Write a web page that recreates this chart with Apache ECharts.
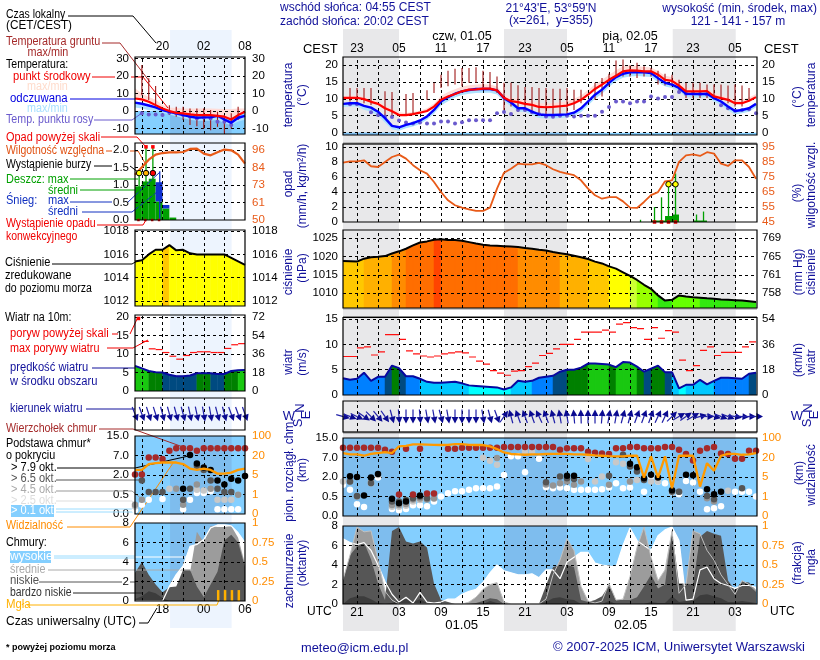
<!DOCTYPE html>
<html><head><meta charset="utf-8">
<style>html,body{margin:0;padding:0;background:#fff}#c{width:820px;height:660px}</style>
<script src="https://cdn.jsdelivr.net/npm/echarts@6/dist/echarts.min.js"></script>
</head><body><div id="c"></div>
<script>
const n = null;
// ---------- tick labels ----------
const localTicksMain = ['23','05','11','17','23','05','11','17','23','05'];
const utcTicksMain   = ['21','03','09','15','21','03','09','15','21','03'];
const localTicksLeft = ['20','02','08'];
const utcTicksLeft   = ['18','00','06'];
const cloudScaleLabels = ['0.0','0.5','2.0','7.0','15.0'];
const visScaleLabels   = ['0','1','5','20','100'];
const mmHgLabels = ['758','761','765','769'];
const leftHumLabels = ['50','61','73','84','96'];
const fogLabels = ['0','0.25','0.5','0.75','1'];
// ---------- main column (hourly from 19 UTC) ----------
const temp = [10.3,10.3,10.3,9.9,9.1,8.5,7.2,6.3,5.2,5.2,5.5,5.9,6.4,7.7,9.7,10.7,11.4,12.2,12.7,12.8,13,13,12.5,10.3,9.3,9,8.5,8.2,7.6,7.5,7.6,7.8,8,8.7,9.7,11.2,12.9,14.2,15.6,16.8,18.1,18.4,18.3,18.1,18.1,17.1,15.6,15.3,13.9,12.2,12.2,12.2,12.3,10.7,10.2,9.7,8.7,8.7,9.4,10.5];
const tempMax = [10.8,10.9,10.9,10.5,9.8,9.2,8,7,6,5.8,6.1,6.5,7.2,8.6,10.8,12,12.8,13.6,14,14.2,14.3,14.2,13.6,11.3,10.3,10,9.5,9.2,8.7,8.6,8.7,9,9.3,10,11,12.6,14.2,15.6,17,18.4,19.6,19.9,19.7,19.4,19.2,18.2,16.8,16.4,15,13.2,13,13,13.1,11.6,11,10.5,9.6,9.7,10.4,11.4];
const feel = [8.5,8.7,8.7,7.9,7.4,6.2,4.3,2,1.6,2.3,2.8,3.6,4.8,6.7,9.2,10.5,11.5,12.2,12.6,12.9,12.9,12.9,12.5,10.2,8.9,7.2,7.2,6.2,5.4,5.2,5.2,5.3,5.4,5.9,7.2,9.2,11.2,12.7,14.7,16.4,17.4,17.8,17.9,17.8,17.6,16.1,14.7,14.2,13.2,11.5,11.4,11.4,11.5,10.2,9.2,7.7,6.4,6.7,7.2,8.5];
const feelMin = [7.6,7.7,7.7,6.8,6.2,5,3,1,.6,1.3,1.8,2.6,3.8,5.6,8,9.3,10.4,11.1,11.5,11.7,11.8,11.8,11.3,9.2,7.8,6.2,6.2,5.2,4.3,4.2,4.2,4.3,4.5,4.9,6,8,10,11.5,13.5,15.2,16.2,16.6,16.7,16.6,16.4,14.9,13.6,13.2,12.2,10.5,10.4,10.4,10.5,9.2,8.2,6.6,5.4,5.7,6.2,7.5];
const dew = [n,8.4,8.4,n,6,5.2,4.8,4.6,3.6,3,2.7,3,2.7,2.7,3.3,3.3,2.7,3.1,3.7,3.7,3.7,3.7,5.7,6.1,5.5,6.7,6.7,6,5.5,4.8,4.7,5,5,4.8,5,5,5,6.2,7.6,9.2,9.2,8.7,9.2,9.2,10.7,10.1,10.5,10.5,12,11.5,11.6,11.4,11.3,10.3,8.1,7.2,6.5,6.7,6.9,5.7];
const groundHours = [1,2,3,4,6,7,9,10,12,13,14,15,16,17,18,19,20,21,22,23,24,25,26,27,28,29,30,31,32,33,34,36,37,38,39,40,41,42,43,44,45,46,47,48,49,50,51,52,53,54,55,56,57,58];
const groundMax = [13.2,13.2,13.2,13.2,12.2,12,11.4,11.7,12.5,14.7,17.1,18.3,18.9,19.1,19.1,19.3,18.3,17.9,16.6,14.7,14.7,14,13.5,13.5,13.2,13.2,13,13,13.2,12.7,12.7,14.7,16.1,17.4,21.3,21.6,19.8,20.6,19.6,19.1,18.3,17.4,17.1,15.6,14.7,14.7,14.7,14.2,14.2,14.2,13.9,14.2,13.9,13.2];
const groundMin = [9.2,8.7,8.7,8.2,5.2,4.8,5.2,5.2,9.7,11.7,13.2,13.7,14.2,13.7,14.7,14.7,13.2,13,11.7,6.7,7.7,6.2,6.7,5.7,5.2,5.2,5.2,5.2,5.5,6.7,8.7,9.7,10.7,13.7,16.1,16.6,16.6,16.1,16.6,16.6,14.2,13.9,13.7,11.7,10.2,10.2,10.2,10.2,10.2,9.7,8.7,7.7,7.7,9.7];
const humidity = [84.7,85.6,85.6,86.3,82.3,81.8,85.2,88.5,90.1,87.4,83,79.6,77.4,71.8,65.1,59.5,56.2,54.6,53.5,52.4,52.4,54.6,67.3,78,80.7,84,83.6,83.6,84.5,83,80.3,78.5,77.4,76.3,72.9,67.3,62.9,60.6,61.7,61.7,58.8,54.6,54.4,58.4,63,65,72.2,72.9,85.2,89.6,90.3,89.2,91.7,90.8,84,82.5,86.3,86.3,81.8,74];
const rainSlots = [44,45,46,47,50,51];
const rainMean  = [.2,.2,.8,1,.2,.2];
const rainMaxSlots = [42,44,45,46,47,50,51];
const rainMax  = [.3,2,3.3,4.9,6.5,1,1.4];
const convSlots = [44,45,46,47];
const stormSlots = [46,47];
const pressure = [1018.8,1018.7,1018.6,1019.4,1019.8,1019.9,1020.1,1020.8,1021.4,1022.1,1023,1023.8,1024.1,1024.55,1024.7,1024.5,1024.45,1024.3,1023.9,1023.5,1023.2,1023,1022.9,1022.8,1022.7,1022.6,1022.3,1022.1,1021.8,1021.6,1021.2,1020.9,1020.6,1020.2,1019.8,1019.3,1018.6,1018.1,1017.3,1016.7,1015.7,1014.7,1013.6,1012.3,1011.2,1009.4,1008,1008.2,1009.4,1009.1,1008.9,1008.8,1008.6,1008.5,1008.3,1008.2,1008.1,1008,1007.8,1007.6];
const wind = [3.3,3,3.2,4.4,2.8,3.6,3.6,5.8,5.3,3.7,3.7,3.2,2.6,2.4,2.4,2.5,2.6,2.3,1.9,1.8,1.7,1.6,1.5,1.1,1.5,2.8,2.6,2.8,3.4,3.6,3.8,4.6,5,5,5.4,6.2,6.2,6.1,6,5.5,6.5,6.4,5.6,4.6,5.2,5.8,4.5,4.5,1.3,2,2,3,2.1,2.8,3.4,3.4,3.3,3.2,4.2,4.4];
const gust = [7.6,7.6,9.3,9.5,7.9,8.5,11.9,11.9,11,8.7,8.1,7.7,7.5,7.7,8.1,8.3,8.5,8.3,7.5,6.7,6.1,4.8,4.3,3.9,4.7,4.8,5.6,6.3,7.8,8.2,9.1,10,10,11,12.4,12.4,12.4,12.8,12.4,14,14.3,13.3,13.1,11,13.3,11.2,12.7,12.4,6.9,4.8,5.8,8.8,9.5,7.8,8.4,8.4,8.4,9.5,10.5];
const windDir = [285,290,295,305,315,320,325,345,355,0,0,355,350,350,345,350,0,0,0,0,350,345,340,215,165,160,160,160,155,160,165,170,170,175,178,180,180,185,190,190,195,195,200,200,200,205,205,225,240,235,240,255,270,285,290,290,280,275,270,270];
const cloudTop = [3.5,3.5,3.5,3.5,3.5,3.5,3.4,3.3,1.1,3.45,1.1,3.45,1.15,1.15,n,3.45,3.45,3.5,3.5,3.5,3.5,3.5,3.5,3.54,3.54,3.54,3.54,3.54,3.54,3.54,3.54,3.4,3.47,3.47,3.47,3.3,3.24,3.21,3.18,3.47,3.47,3.54,3.54,3.47,3.47,3.47,3.54,3.54,3.4,3.18,2.85,3.35,3.47,3.54,3.21,3.18,2.94,2.94,3.35,3.35];
const okt01 = [1.6,1.34,.6,.46,1.68,1.97,n,.36,.3,.36,.55,.55,.5,.74,1,1.17,1.27,1.27,1.34,1.42,1.42,1.42,1.51,2.1,3.06,3.06,2.25,n,2.93,1.48,1.42,1.46,1.42,1.34,1.34,1.34,1.34,1.37,1.46,1.68,1.42,1.46,n,1.25,2.03,1.77,1.68,1.22,1.12,1.8,1.72,1.24,.34,.4,.5,n,1.24,1.24,1.24,1];
const okt25Hours = [0,5,7,8,9,10,11,12,20,21,22,26,27,35,36,37,39,40,41,42,44,45,55];
const okt25 = [1.77,2.1,.48,.48,.52,.74,.82,.91,2.99,2.83,2.63,3.3,3.3,2.92,1.77,2.03,2.76,2.68,1.77,1.85,1.77,1.77,1.29];
const okt45Hours = [1,2,4,7,8,9,10,11,12,13,22,29,30,31,32,33,34,38,41,48,52,53];
const okt45 = [1.77,1,1.74,.57,.57,.62,.85,.9,.85,.9,2.97,1.62,1.56,1.68,1.77,1.6,1.77,1.6,1.77,1.25,.91,.74];
const okt65Hours = [1,2,4,7,8,9,10,11,12,29,31,32,33,38,40,41,42,43,47,48,52,53,57];
const okt65 = [1.77,1.03,1.68,.74,.74,.82,.91,1,.91,1.73,2.03,1.94,1.9,2.06,3.14,2.54,2.28,1.85,1.25,1.25,1.03,.86,1.42];
const okt79Hours = [1,2,3,4,5,7,8,9,11,32,33,41,42,43,44,45,47,49,50,52,53,54];
const okt79 = [2.04,2,1.05,1.97,2.15,.88,.65,.75,1.05,2.06,2.06,2.68,2.5,1.94,2.11,1.97,1.32,2.11,2.09,1.37,1.12,1.24];
const visibility = [3.23,3.16,3.16,3.09,3.19,3.23,3.28,3.23,3.57,3.6,3.67,3.67,3.66,3.65,3.64,3.65,3.69,3.69,3.65,3.64,3.64,3.57,3.43,3.26,3.18,3.16,3.14,3.16,3.16,3.18,3.19,3.19,3.19,3.16,3.16,3.14,3.11,3.09,3.07,3.06,3.06,3.09,3.1,1.97,3.06,1.97,3.06,1.42,3.09,3.09,3.09,1.51,2.71,2.32,3.09,3.19,3.19,3.14,3.16,3.23];
const cloudHigh = [6.7,6.3,6.1,6.3,5.5,4,2.3,1,.2,.7,.1,1.2,.2,.1,.2,.5,.5,1,1.3,1.5,2.2,3.2,4,3.4,3.2,3,3,3.1,2.7,3.5,3.5,2.6,4.3,4.8,5.3,5.3,4.2,4,3.9,3.8,6,7.8,6.5,6,5.5,7,7.6,7.9,6.5,.4,.5,3.5,3.8,2.6,2.1,1.9,1.6,1.9,1.9,1.7];
const cloudMid = [2.5,5,7.9,7.4,7.5,4.5,1.3,.4,0,0,0,0,0,0,0,0,0,0,.2,.7,1.5,2,2.2,.2,0,0,0,0,0,.5,3,4.5,6.7,5.5,1.8,.3,.1,.3,2.1,.4,.5,2.8,5.8,7.9,4.8,2.4,3.5,7.5,1.1,2,7.5,7.2,5.5,4.5,3,2,1,2.4,2,1.3];
const cloudLow = [2.4,5,5.9,6.3,4.6,2.1,.4,7.5,7.9,6.4,6.2,6.4,5.8,2.1,.4,.2,0,0,0,.1,.3,.6,.5,0,0,0,0,0,0,1.9,3.8,4,4,3.8,.4,.2,.4,.8,1.9,.4,.4,.4,.7,1.8,3,1.6,2,7.5,2.1,2.1,2,6.9,7.5,7.2,7,2.4,1.4,2.3,2.2,1.4];
const cloudVeryLow = [0,.6,.8,.8,.5,.1,0,.1,.4,.5,.2,.5,.1,0,0,0,0,0,0,0,0,.3,.1,0,0,0,0,0,0,.2,.6,.7,.5,.4,0,0,0,0,.3,0,0,0,0,0,.2,.1,.1,.8,.2,.3,.3,.9,1,.8,.6,.2,.2,.3,.2,.1];
// ---------- left column (hourly from 14 UTC) ----------
const lTemp = [7.2,6.7,5.3,3.4,1.5,0,-1,-1.3,-1.9,-2.3,-2.3,-2.3,-2.7,-3.2,-4.8,-2.3,-.4];
const lTempMax = [13,10,8,6.5,3.5,2,1.8,1.5,1.5,1.5,1.5,1.5,1.4,1.2,1.2,1.5,1.5];
const lFeel = [4.8,4.2,3.2,2.1,.6,-.4,-1.3,-2.3,-3.2,-3.8,-3.6,-3.6,-2.7,-4.8,-6.7,-3.8,-2.7];
const lFeelMin = [2,1.5,.5,0,-1,-2,-3,-4,-5,-5.5,-5.5,-5.5,-5,-7,-8,-6,-5];
const lDew = [n,-1.3,-1.9,-1.9,-2.3,-1,-1.3,-2.3,-3.2,-4.2,-3.6,-4.2,-6.1,-6.1,-8,-3.6,n];
const lGroundHours = [1,2,3,5,6,7,8,9,10,11,12,13,14,15];
const lGroundMax = [26.3,18.7,14.3,3.4,2.5,2.5,1.5,1.5,1.5,.6,-.4,-2.3,-1.3,2.5];
const lGroundMin = [9.1,6.3,3.4,-2.3,-3.2,-5.1,-8,-8.6,-9.9,-10.9,-9,-12.8,-9.9,-5.1];
const lHumidity = [79.7,84.6,89.6,93,94,94.5,94.5,94.7,96.7,96.9,93.6,92.5,94.5,96.3,95.8,93,87];
const lRain = [.96,1.1,1.18,.53,.33,.07];
const lSnow = [0,0,0,.55,.1,0];
const lRainMaxSlots = [0,1,2];
const lRainMax = [1.34,2.09,2.09];
const lSnowMaxSlots = [3];
const lSnowMax = [1.39];
const lConvSlots = [0,1,2,3];
const lOverSlots = [1,2];
const lStormSlots = [0,1,2];
const lPressure = [1015.4,1015.5,1016,1016.4,1016.4,1016.8,1016.35,1016.4,1016.1,1016,1016,1016,1016,1016,1015.7,1015.4,1015.1];
const lWind = [6.8,6.1,5.4,5.1,5,4.4,4,4,4.2,4.8,4.8,4.8,4.6,4.6,5.4,5.6,5.7];
const lGust = [n,13.4,11.4,11.2,10.4,9.4,8.6,9.6,10.4,10.6,10.6,10.4,10.4,11.5,12.5,12.8];
const lGustOver = [19.6];
const lWindDir = [338,340,342,342,345,345,345,345,348,348,350,350,345,345,340,340,340];
const lTop = [2.03,2.03,2.9,2.9,2.82,3.25,3.37,3.37,3.37,3.25,3.37,3.37,3.37,3.37,3.37,3.37,3.37];
const lOkt79Hours = [7,8,9,10,11,12,13,14,15,16];
const lOkt79 = [1.29,3.03,2.59,2.38,2.26,1.72,1.51,1.81,1.72,1.95];
const lOkt65Hours = [1,2,3,4,7,8,9,10,11,12,13,14];
const lOkt65 = [1.72,1.13,1.13,1.13,.73,1.29,2.47,2.26,1.72,1.29,1.13,1.13];
const lOkt45Hours = [0,1,6,7,9,11,15];
const lOkt45 = [.47,.73,1.29,.47,1.51,1.29,.99];
const lOkt25Hours = [0,5,9,10,12,13,14];
const lOkt25 = [.38,1.29,1.25,1.2,.73,.73,.73];
const lOkt01Hours = [0,1,2,4,7,8,9,10,11,12,13,14,15];
const lOkt01 = [.2,.47,.73,.77,.24,.73,1.08,1.08,1.17,.24,.24,.24,.24];
const lVisibility = [2.26,2.26,2.56,2.61,2.64,2.64,2.64,2.56,2.33,2.26,2.33,2.26,2.07,2.07,2.12,2.26,2.33];
const lHigh = [0,0,0,0,0,1.5,2.7,3.6,5.6,5.8,6.3,7.5,7.8,7.8,7.7,7,6];
const lMid = [0,0,0,0,0,0,0,3,2.9,7.1,6,7.7,7.6,7.6,7.7,6.5,3.8];
const lLow = [2.9,4,2.7,1.7,.9,1.4,1.5,3.2,3.2,1.5,.4,1.7,3,6.2,6.8,6,3.5];
const lVeryLow = [.2,.5,1,.8,.3,0,0,0,0,0,0,0,0,0,0,0,0];
const fogHours = [12,13,14,15];
const fogFrac = [.14,.14,.14,.14];
// ---------- night / shading hours ----------
const nightMain = [[0,8],[23,32],[47.1,56.1]];
const nightLeft = [[5.1,14.05]];

// ---------- layout ----------
const FONT = '"Liberation Sans"';
const C = {
  main:{l:343,r:757,xmax:59.14,vg:[2,5,8,11,14,17,20,23,26,29,32,35,38,41,44,47,50,53,56],lab:[2,8,14,20,26,32,38,44,50,56]},
  left:{l:135,r:245,xmax:16,vg:[1,4,7,10,13],lab:[4,10,16]}
};
const grids=[],xAxes=[],yAxes=[],series=[],frames=[];
const pts=a=>a.map((v,i)=>v==null?null:[i,v]).filter(Boolean);
const sparse=(h,a)=>h.map((x,i)=>[x,a[i]]);

function panel(col,top,bottom,o){
  const c=C[col], g=grids.length;
  grids.push({left:c.l,width:c.r-c.l,top,height:bottom-top,show:false});
  const x=xAxes.length;
  xAxes.push(Object.assign({type:'value',gridIndex:g,min:0,max:c.xmax,show:false,axisLine:{show:false},axisTick:{show:false},splitLine:{show:false}},o.xAxis||{}));
  const y=yAxes.length;
  const lk=(t,l)=>v=>{const i=t.indexOf(v);return l&&i>=0?l[i]:String(v)};
  yAxes.push({type:'value',gridIndex:g,position:'left',min:o.min,max:o.max,axisLine:{show:false},axisTick:{show:false},splitLine:{show:false},
    show:!!o.ticks,
    axisLabel:{show:!!o.ticks,customValues:o.ticks,formatter:lk(o.ticks||[],o.labels),color:'#000',fontFamily:FONT,fontSize:11.5,margin:col=='main'?5:6}});
  const yr=yAxes.length;
  yAxes.push({type:'value',gridIndex:g,position:'right',min:o.rmin!=null?o.rmin:o.min,max:o.rmax!=null?o.rmax:o.max,axisLine:{show:false},axisTick:{show:false},splitLine:{show:false},
    show:!!o.rticks,
    axisLabel:{show:!!o.rticks,customValues:o.rticks,formatter:lk(o.rticks||[],o.rlabels),color:o.rcolor||'#000',fontFamily:FONT,fontSize:11.5,margin:col=='main'?5:7}});
  const p={x,y,yr,col,c,min:o.min,max:o.max};
  frames.push([c.l,top,c.r-c.l,bottom-top]);
  if(o.blue!==undefined){
    const night=col=='main'?nightMain:nightLeft;
    const to=o.blue;
    series.push({type:'line',xAxisIndex:x,yAxisIndex:y,data:[[0,o.min]],showSymbol:false,silent:true,animation:false,z:1,
      markArea:{silent:true,animation:false,z:1,data:[[{xAxis:0,yAxis:o.min,itemStyle:{color:'#84cfff',opacity:1}},{xAxis:c.xmax,yAxis:to}]].concat(
        night.map(b=>[{xAxis:b[0],yAxis:o.min,itemStyle:{color:'#7ebdee',opacity:1}},{xAxis:b[1],yAxis:to}]))}});
  }
  const hs=(o.ticks||[]).filter(v=>v>o.min&&v<o.max);
  series.push({type:'line',xAxisIndex:x,yAxisIndex:y,data:[[0,o.min]],showSymbol:false,silent:true,animation:false,z:3,
    markLine:{silent:true,animation:false,symbol:'none',z:3,label:{show:false},lineStyle:{color:'#000',width:1,type:[3,3]},
      data:c.vg.map(v=>({xAxis:v})).concat(hs.map(v=>({yAxis:v})))}});
  return p;
}
function line(p,data,color,width,z,yaxis){
  series.push({type:'line',xAxisIndex:p.x,yAxisIndex:yaxis||p.y,data,showSymbol:false,silent:true,animation:false,clip:true,z:z||5,lineStyle:{color,width},itemStyle:{color}});
}
function area(p,arr,color,z){
  series.push({type:'line',xAxisIndex:p.x,yAxisIndex:p.y,data:pts(arr),showSymbol:false,silent:true,animation:false,clip:true,z:z||2,lineStyle:{width:0},itemStyle:{color},areaStyle:{color,opacity:1,origin:'start'}});
}
function dots(p,data,color,size,z,border,symbol,clip){
  series.push({type:'scatter',xAxisIndex:p.x,yAxisIndex:p.y,data,symbol:symbol||'circle',symbolSize:size,silent:true,animation:false,clip:!!clip,z:z||6,
    itemStyle:{color,opacity:1,borderColor:border||undefined,borderWidth:border?1:0}});
}
function segs(p,rows,color,width,z,yaxis){
  series.push({type:'custom',xAxisIndex:p.x,yAxisIndex:yaxis||p.y,clip:true,silent:true,animation:false,z:z||4,data:rows,
    renderItem:(par,api)=>{const a=api.coord([api.value(0),api.value(1)]),b=api.coord([api.value(2),api.value(3)]);
      return {type:'line',shape:{x1:a[0],y1:a[1],x2:b[0],y2:b[1]},style:{stroke:color,lineWidth:width}}}});
}
function rects(p,rows,color,z,yaxis){
  series.push({type:'custom',xAxisIndex:p.x,yAxisIndex:yaxis||p.y,clip:true,silent:true,animation:false,z:z||2,data:rows,
    renderItem:(par,api)=>{const a=api.coord([api.value(0),api.value(3)]),b=api.coord([api.value(1),api.value(2)]);
      return {type:'rect',shape:{x:a[0],y:a[1],width:b[0]-a[0],height:b[1]-a[1]},style:{fill:color}}}});
}
function band(p,lo,hi,color,z){
  series.push({type:'custom',xAxisIndex:p.x,yAxisIndex:p.y,clip:true,silent:true,animation:false,z:z||2,data:[[0,lo[0]]],
    renderItem:(par,api)=>{const up=hi.map((v,i)=>api.coord([i,v])),dn=lo.map((v,i)=>api.coord([i,v])).reverse();
      return {type:'polygon',shape:{points:up.concat(dn)},style:{fill:color}}}});
}
function stepFill(p,arr,colorOf,z){
  const rows=[];for(let i=0;i<arr.length-1;i++)rows.push([i,arr[i],i+1,arr[i+1]]);
  const base=p.min;
  series.push({type:'custom',xAxisIndex:p.x,yAxisIndex:p.y,clip:true,silent:true,animation:false,z:z||2,data:rows,
    renderItem:(par,api)=>{const x0=api.value(0),v0=api.value(1),x1=api.value(2),v1=api.value(3),col=colorOf((v0+v1)/2);
      return {type:'polygon',shape:{points:[api.coord([x0,base]),api.coord([x0,v0]),api.coord([x1,v1]),api.coord([x1,base])]},style:{fill:col,stroke:col,lineWidth:.5}}}});
}
function arrows(p,dirs,L){
  const rows=dirs.map((d,i)=>[i,0,d]);
  series.push({type:'custom',xAxisIndex:p.x,yAxisIndex:p.y,clip:false,silent:true,animation:false,z:6,data:rows,
    renderItem:(par,api)=>{
      const c=api.coord([api.value(0),0]),d=api.value(2)*Math.PI/180,ux=-Math.sin(d),uy=Math.cos(d),h=L/2;
      const tail=[c[0]-ux*h,c[1]-uy*h],tip=[c[0]+ux*h,c[1]+uy*h],b=[tip[0]-ux*6.5,tip[1]-uy*6.5];
      return {type:'group',children:[
        {type:'line',shape:{x1:tail[0],y1:tail[1],x2:b[0],y2:b[1]},style:{stroke:'#2020a8',lineWidth:1.2}},
        {type:'polygon',shape:{points:[tip,[b[0]-uy*3.4,b[1]+ux*3.4],[b[0]+uy*3.4,b[1]-ux*3.4]]},style:{fill:'#0a0a90'}}]}}});
}
const pressColor=v=>v<1008.8?'#33e810':v<1010.5?'#66ff00':v<1013.8?'#99ff00':v<1015.2?'#ccff33':v<1017.1?'#ffff00':v<1019.4?'#ffc800':v<1020.8?'#ffb000':v<1021?'#ffa000':v<1022.5?'#ff8c00':v<1024.62?'#ff6e00':'#ff4400';
const pressColorLeft=v=>v>=1016.59?'#ffc800':'#ffff00';
const windColorMain=v=>v<2?'#00ffff':v<3?'#00c8ff':v<4?'#0080ff':v<5?'#004a80':v<6?'#008000':'#19c810';
const windColorLeft=v=>v<2?'#00ffff':v<3?'#00c8ff':v<4?'#0080ff':v<4.75?'#004a80':v<5.6?'#008000':'#19c810';
const CBLUE='#0000ff',CRED='#ff0000',CPINK='#ffdcd8',CLB='#aee2ff',CDEW='#6a5acd',CGR='#a01818',CHUM='#e85a18',CVIS='#ff9a00',CGRN='#00a000';

function bandsGrid(col,top,bottom,night,color){
  const c=C[col],g=grids.length;
  grids.push({left:c.l,width:c.r-c.l,top,height:bottom-top,show:false});
  const x=xAxes.length;xAxes.push({type:'value',gridIndex:g,min:0,max:c.xmax,show:false});
  const y=yAxes.length;yAxes.push({type:'value',gridIndex:g,min:0,max:1,show:false});
  series.push({type:'line',xAxisIndex:x,yAxisIndex:y,data:[[0,0]],showSymbol:false,silent:true,animation:false,z:0,
    markArea:{silent:true,animation:false,z:0,itemStyle:{color,opacity:1},data:night.map(b=>[{xAxis:b[0],yAxis:0},{xAxis:b[1],yAxis:1}])}});
}
bandsGrid('main',29,631,nightMain,'#e8e8ea');
bandsGrid('left',30,628,nightLeft,'#edf4fe');

const topAxis=(labs,ticks,margin)=>({show:true,position:'top',axisLine:{show:false},axisLabel:{show:true,customValues:ticks,formatter:v=>labs[ticks.indexOf(v)],color:'#000',fontFamily:FONT,fontSize:12,margin}});
const botAxis=(labs,ticks,margin)=>({show:true,position:'bottom',axisLine:{show:false},axisLabel:{show:true,customValues:ticks,formatter:v=>labs[ticks.indexOf(v)],color:'#000',fontFamily:FONT,fontSize:12,margin}});
const cloudTicks=[0,1,2,3,4];

// ===== MAIN =====
const mT=panel('main',57,135,{min:-.68,max:22.33,ticks:[0,5,10,15,20],rticks:[0,5,10,15,20],blue:0,xAxis:topAxis(localTicksMain,C.main.lab,2)});
band(mT,temp,tempMax,CPINK,2);
band(mT,feelMin,feel,CLB,2);
segs(mT,groundHours.map((h,i)=>[h,groundMin[i],h,groundMax[i]]),CGR,1.1,4);
dots(mT,pts(dew),CDEW,4,4);
line(mT,pts(feel),CBLUE,2.4,5);
line(mT,pts(temp),CRED,2.2,5);

const mP=panel('main',144,222,{min:0,max:10.44,ticks:[0,2,4,6,8,10],rmin:45,rmax:97.2,rticks:[45,55,65,75,85,95],rcolor:CHUM});
rects(mP,rainSlots.map((s,i)=>[s,s+1,0,rainMean[i]]),CGRN,2);
segs(mP,rainMaxSlots.map((s,i)=>[s+.5,0,s+.5,rainMax[i]]),CGRN,1.3,4);
line(mP,pts(humidity),CHUM,1.8,5,mP.yr);
dots(mP,convSlots.map(s=>[s+.5,0]),'#e00000',3.5,6,null,'rect');
dots(mP,stormSlots.map(s=>[s+.5,5.05]),'#ffff00',5.5,7,'#000');

const mPr=panel('main',230,308,{min:1005.98,max:1027.2,ticks:[1010,1015,1020,1025],rticks:[1010,1015,1020,1025],rlabels:mmHgLabels});
stepFill(mPr,pressure,pressColor,2);
line(mPr,pts(pressure),'#000',2,5);

const mW=panel('main',317.5,395,{min:0,max:15.3,ticks:[0,5,10,15],rmin:0,rmax:55.08,rticks:[0,18,36,54]});
stepFill(mW,wind,windColorMain,2);
segs(mW,gust.map((v,i)=>[i,v,i+1,v]),'#ff1010',1.2,4);
line(mW,pts(wind),'#0808a0',2,5);

const mD=panel('main',401,432,{min:-1,max:1});
arrows(mD,windDir,14);

const mC=panel('main',438,516,{min:0,max:4,ticks:cloudTicks,labels:cloudScaleLabels,rticks:cloudTicks,rlabels:visScaleLabels,rcolor:'#ff8c00',blue:4});
dots(mC,pts(okt01),'#ffffff',6.5,6);
dots(mC,sparse(okt25Hours,okt25),'#c8c8c8',6.5,6);
dots(mC,sparse(okt45Hours,okt45),'#949494',6.5,6);
dots(mC,sparse(okt65Hours,okt65),'#555555',6.5,6);
dots(mC,sparse(okt79Hours,okt79),'#000000',6.5,6);
dots(mC,pts(cloudTop),'#a52a2a',6.5,6);
line(mC,pts(visibility),CVIS,2.3,7);

const mK=panel('main',526,604,{min:0,max:8,ticks:[0,2,4,6,8],rmin:0,rmax:1,rticks:[0,.25,.5,.75,1],rlabels:fogLabels,rcolor:'#ff8c00',blue:8,xAxis:botAxis(utcTicksMain,C.main.lab,3)});
area(mK,cloudHigh,'#ffffff',2);
area(mK,cloudMid,'#9c9c9c',2);
area(mK,cloudLow,'#565656',2);
area(mK,cloudVeryLow,'#3c3c3c',2);
line(mK,pts(cloudHigh),'#ffffff',1.2,5);
line(mK,pts(cloudMid),'#c0c0c0',1,5);

// ===== LEFT =====
const lT=panel('left',57,134,{min:-13.1,max:30.9,ticks:[-10,0,10,20,30],rticks:[-10,0,10,20,30],blue:0,xAxis:topAxis(localTicksLeft,C.left.lab,4)});
band(lT,lFeelMin,lFeel,CLB,2);
band(lT,lTemp,lTempMax,CPINK,2);
segs(lT,lGroundHours.map((h,i)=>[h,lGroundMin[i],h,lGroundMax[i]]),CGR,1.1,4);
dots(lT,pts(lDew),CDEW,4,4);
line(lT,pts(lFeel),CBLUE,2.4,5);
line(lT,pts(lTemp),CRED,2.2,5);

const lP=panel('left',143,220,{min:0,max:2.2,ticks:[0,.5,1,1.5,2],labels:['0.0','0.5','1.0','1.5','2.0'],rmin:50,rmax:100.6,rticks:[50,61.5,73,84.5,96],rlabels:leftHumLabels,rcolor:CHUM});
rects(lP,lRain.map((v,i)=>[i,i+1,0,v]),CGRN,2);
rects(lP,lSnow.map((v,i)=>[i,i+1,lRain[i],lRain[i]+v]),'#1030d0',2);
segs(lP,lRainMaxSlots.map((s,i)=>[s+.6,0,s+.6,lRainMax[i]]),CGRN,1.3,4);
segs(lP,lSnowMaxSlots.map((s,i)=>[s+.6,0,s+.6,lSnowMax[i]]),'#1030d0',1.3,4);
line(lP,pts(lHumidity),CHUM,2.2,5,lP.yr);
dots(lP,lConvSlots.map(s=>[s+.5,0]),'#e00000',2.5,6,null,'rect');
dots(lP,lOverSlots.map(s=>[s+.6,2.09]),'#ff0000',3.5,6,null,'rect');
dots(lP,[[lStormSlots[0]+.6,1.34]],'#ffff00',5.5,7,'#000');
dots(lP,[[lStormSlots[1]+.6,1.34]],'#ffb000',5.5,7,'#000');
dots(lP,[[lStormSlots[2]+.6,1.34]],'#ff0000',5.5,7,'#000');

const lPr=panel('left',230,306,{min:1011.57,max:1018.1,ticks:[1012,1014,1016,1018],rticks:[1012,1014,1016,1018]});
stepFill(lPr,lPressure,pressColorLeft,2);
line(lPr,pts(lPressure),'#000',2,5);

const lW=panel('left',315,391,{min:0,max:20.54,ticks:[0,5,10,15,20],rmin:0,rmax:73.94,rticks:[0,18,36,54,72]});
stepFill(lW,lWind,windColorLeft,2);
segs(lW,lGust.map((v,i)=>v==null?null:[i,v,i+1,v]).filter(Boolean),'#ff1010',1.2,4);
dots(lW,lGustOver.map(v=>[.5,v]),'#ff0000',3.5,6,null,'rect');
line(lW,pts(lWind),'#0808a0',2,5);

const lD=panel('left',398,430,{min:-1,max:1});
arrows(lD,lWindDir,15);

const lC=panel('left',436,514,{min:0,max:4,ticks:cloudTicks,labels:cloudScaleLabels,rticks:cloudTicks,rlabels:visScaleLabels,rcolor:'#ff8c00',blue:4});
dots(lC,sparse(lOkt01Hours,lOkt01),'#ffffff',6.5,6);
dots(lC,sparse(lOkt25Hours,lOkt25),'#c8c8c8',6.5,6);
dots(lC,sparse(lOkt45Hours,lOkt45),'#949494',6.5,6);
dots(lC,sparse(lOkt65Hours,lOkt65),'#555555',6.5,6);
dots(lC,sparse(lOkt79Hours,lOkt79),'#000000',6.5,6);
dots(lC,pts(lTop),'#a52a2a',6.5,6);
line(lC,pts(lVisibility),CVIS,2.3,7);

const lK=panel('left',523,601,{min:0,max:8,ticks:[0,2,4,6,8],rmin:0,rmax:1,rticks:[0,.25,.5,.75,1],rlabels:fogLabels,rcolor:'#ff8c00',blue:8,xAxis:botAxis(utcTicksLeft,C.left.lab,3)});
area(lK,lHigh,'#ffffff',2);
area(lK,lMid,'#9c9c9c',2);
area(lK,lLow,'#565656',2);
area(lK,lVeryLow,'#3c3c3c',2);
line(lK,pts(lHigh),'#ffffff',1.2,5);
segs(lK,fogHours.map((h,i)=>[h+.1,0,h+.1,fogFrac[i]]),'#ffb000',2.5,5,lK.yr);

// ===== text + connectors =====
const NAVY='#10109a', BRN='#a52a2a', ORG='#ff8c00';
// [text, x, y, colour, align, horizontal squeeze]
const texts=[
 ['wschód słońca: 04:55 CEST',280,8,NAVY],['zachód słońca: 20:02 CEST',280,22,NAVY],
 ['21°43\'E, 53°59\'N',551,9,NAVY,'center'],['(x=261,  y=355)',551,21,NAVY,'center'],
 ['wysokość (min, środek, max)',817,9,NAVY,'right'],['121 - 141 - 157 m',738,22,NAVY,'center'],
 ['czw, 01.05',462,37,'#000','center',1.05],['pią, 02.05',630,37,'#000','center',1.05],
 ['CEST',303,50,'#000','left',1.08],['CEST',764,50,'#000','left',1.08],
 ['UTC',307,612,'#000'],['UTC',770,612,'#000'],
 ['01.05',461.7,626,'#000','center',1.1],['02.05',630.7,626,'#000','center',1.1],
 ['meteo@icm.edu.pl',301,649,NAVY,'left',1.07],['© 2007-2025 ICM, Uniwersytet Warszawski',553,648,NAVY,'left',1.09],
 ['Czas lokalny',6,15,'#000','left',.87],['(CET/CEST)',6,26,'#000','left',.98],
 ['Temperatura gruntu',6,42,BRN,'left',.9],['max/min',27.5,53,BRN,'left',.9],
 ['Temperatura:',6,64.5,'#000','left',.88],['punkt środkowy',13,76.5,'#f00000','left',.93],['max/min',27,87,'#ffdccc','left',.9],
 ['odczuwana',10,98.5,'#0000e0','left',.95],['max/min',27,108.5,'#a8e0ff','left',.9],['Temp. punktu rosy',6,120,CDEW,'left',.89],
 ['Opad powyżej skali',6,137.5,'#f00000','left',.91],['Wilgotność względna',6,151,'#e05010','left',.87],['Wystąpienie burzy',6,165,'#000','left',.87],
 ['Deszcz: max',6,179.5,'#00a000','left',.91],['średni',48,190.5,'#00a000','left',.92],
 ['Śnieg:',6,201,'#1030c0','left',.92],['max',48,201,'#1030c0','left',.92],['średni',48,212,'#1030c0','left',.92],
 ['Wystąpienie opadu',6,224,'#f00000','left',.88],['konwekcyjnego',6,237,'#f00000','left',.87],
 ['Ciśnienie',5,263,'#000','left',.92],['zredukowane',5,276,'#000','left',.93],['do poziomu morza',5,289,'#000','left',.88],
 ['Wiatr na 10m:',5,318,'#000','left',.89],['poryw powyżej skali',10,334,'#f00000','left',.93],['max porywy wiatru',10,349,'#f00000','left',.9],
 ['prędkość wiatru',10,368,NAVY,'left',.93],['w środku obszaru',10,382,NAVY,'left',.93],['kierunek wiatru',10,409,NAVY,'left',.9],
 ['Wierzchołek chmur',6,429,BRN,'left',.89],['Podstawa chmur*',6,444,'#000','left',.9],['o pokryciu',6,456,'#000','left',.9],
 ['> 7.9 okt.',11,468,'#000','left',.92],['> 6.5 okt.',11,479,'#555','left',.92],['> 4.5 okt.',11,490,'#aaa','left',.92],['> 2.5 okt.',11,501,'#ddd','left',.92],
 ['> 0.1 okt.',11,511,'#fff','left',.92],['Widzialność',6,526,ORG,'left',.89],['Chmury:',6,543,'#000','left',.9],
 ['wysokie',10,557,'#fff'],['średnie',10,570,'#aaa','left',.9],['niskie',10,581,'#555','left',.95],['bardzo niskie',10,593,'#333','left',.87],['Mgła',6,605,'#ffb000','left',.95],
 ['Czas uniwersalny (UTC)',6,622,'#000']
];
const rotTexts=[
 ['temperatura',289,95],['(°C)',303,95],['opad',289,184],['(mm/h, kg/m²/h)',303,186],
 ['ciśnienie',289,272],['(hPa)',303,268],['wiatr',289,362],['(m/s)',303,362],
 ['pion. rozciągł. chm.',290,470],['(km)',303,470],['zachmurzenie',290,571],['(oktanty)',303,563],
 ['(°C)',798,97],['temperatura',812,95],['(%)',798,193],['wilgotność wzgl.',812,185],
 ['(mm Hg)',799,272],['ciśnienie',812,272],['(km/h)',799,360],['wiatr',812,362],
 ['(km)',800,473],['widzialność',812,475],['(frakcja)',798,563],['mgła',812,562]
];
const compass=[['W',289,416,0],['N',300,408,1],['E',306,415,1],['S',298,423,1],['W',797,416,0],['N',808,408,1],['E',814,415,1],['S',807,423,1]];
const connectors=[
 ['#000',[[68,16],[133,16],[156,43]]],[BRN,[[102,43],[120,43],[150,82]]],
 ['#f00000',[[92,77],[115,77]]],['#f00000',[[131,77],[143,77],[168,108]]],
 ['#0000e0',[[70,99],[135,99]]],[CDEW,[[94,120],[132,120],[142,113]]],
 ['#f00000',[[101,137],[137,137],[146,147]]],['#e05010',[[106,151],[112,151]]],['#e05010',[[130,151],[138,151],[145,163]]],
 ['#000',[[94,166],[112,166]]],['#000',[[130,166],[138,172]]],
 ['#00a000',[[70,179],[138,179]]],['#00a000',[[80,190],[143,190]]],
 ['#1030c0',[[70,202],[112,202]]],['#1030c0',[[128,202],[160,172]]],['#1030c0',[[82,212],[132,212],[157,192]]],
 ['#f00000',[[97,225],[143,225],[146,220]]],
 ['#000',[[52,264],[132,264],[137,261]]],
 ['#f00000',[[112,334],[118,334]]],['#f00000',[[130,334],[138,317]]],['#f00000',[[107,348],[133,348],[148,340]]],
 [NAVY,[[92,368],[135,368]]],[NAVY,[[86,409],[135,409]]],
 [BRN,[[99,429],[133,429],[183,447]]],
 ['#000',[[57,468],[135,468],[193,455]]],['#555',[[56,480],[140,480]]],['#999',[[56,491],[132,491],[143,500]]],['#ddd',[[56,501],[132,501],[137,505]]],
 ['#9adcff',[[56,509],[135,509]]],['#9adcff',[[56,512],[135,512]]],
 [ORG,[[67,527],[130,527],[173,463]]],
 ['#9adcff',[[54,556],[135,556]]],['#9adcff',[[54,558],[135,558]]],['#fff',[[135,557],[187,557]]],
 ['#aaa',[[48,570],[193,570]]],['#555',[[39,582],[122,582]]],['#555',[[130,582],[137,582]]],['#222',[[73,593],[143,593]]],
 ['#ffb000',[[27,605],[217,605],[219,600]]],['#000',[[139,623],[148,623],[157,608]]]
];
const F12='12px '+FONT;
const graphic=[];
graphic.push({type:'rect',z:2,shape:{x:11,y:505,width:43,height:12},style:{fill:'#84cfff'}});
graphic.push({type:'rect',z:2,shape:{x:10,y:551,width:41,height:12},style:{fill:'#84cfff'}});
[[142.5,2,'#888'],[308,2,'#c8c8c8'],[316,2,'#888'],[431.5,2,'#888']].forEach(b=>graphic.push({type:'rect',z:8,shape:{x:343,y:b[0],width:414,height:b[1]},style:{fill:b[2]}}));
frames.forEach(f=>graphic.push({type:'rect',z:9,shape:{x:f[0],y:f[1],width:f[2],height:f[3]},style:{fill:'transparent',stroke:'#000',lineWidth:1.2}}));
connectors.forEach(c=>graphic.push({type:'polyline',z:3,shape:{points:c[1]},style:{stroke:c[0],lineWidth:1,fill:'transparent'}}));
texts.forEach(t=>graphic.push({type:'text',z:10,x:t[1],y:t[2],scaleX:t[5]||1,style:{text:t[0],x:0,y:0,fill:t[3],font:F12,align:t[4]||'left',verticalAlign:'middle'}}));
rotTexts.forEach(t=>graphic.push({type:'text',z:10,x:t[1],y:t[2],rotation:Math.PI/2,style:{text:t[0],x:0,y:0,fill:NAVY,font:F12,align:'center',verticalAlign:'middle'}}));
compass.forEach(t=>graphic.push({type:'text',z:10,x:t[1],y:t[2],rotation:t[3]?Math.PI/2:0,style:{text:t[0],x:0,y:0,fill:NAVY,font:'13px '+FONT,align:'center',verticalAlign:'middle'}}));
graphic.push({type:'text',z:10,style:{text:'* powyżej poziomu morza',x:6,y:648,fill:'#000',font:'bold 9px '+FONT,align:'left',verticalAlign:'middle'}});

const chart=echarts.init(document.getElementById('c'),null,{renderer:'canvas',width:820,height:660});
chart.setOption({animation:false,backgroundColor:'#ffffff',tooltip:{show:false},grid:grids,xAxis:xAxes,yAxis:yAxes,series,graphic:{elements:graphic}});
</script></body></html>
